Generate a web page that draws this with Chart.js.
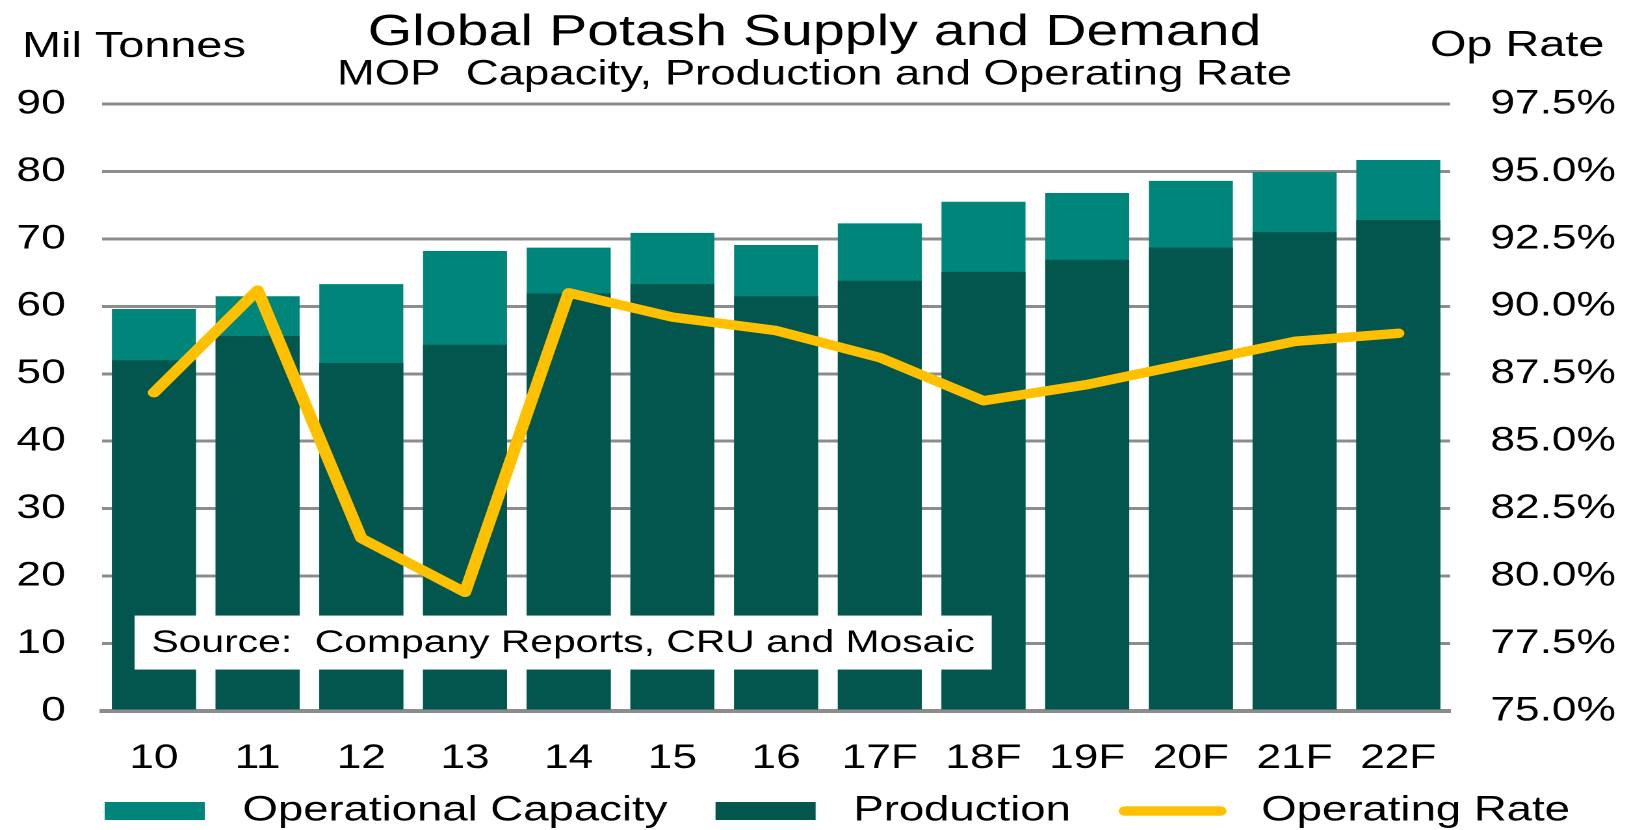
<!DOCTYPE html>
<html>
<head>
<meta charset="utf-8">
<title>Global Potash Supply and Demand</title>
<script src="https://cdn.jsdelivr.net/npm/chart.js@4/dist/chart.umd.min.js"></script>
<style>
  html, body { margin: 0; padding: 0; background: #fff; overflow: hidden; }
  /* the source picture is stretched sideways, so the chart is drawn narrow and widened */
  #wrap { width: 1253px; height: 830px; transform: scaleX(1.3001); transform-origin: 0 0; }
</style>
</head>
<body>
<div id="wrap"><canvas id="chartPotash" width="1253" height="830"></canvas></div>
<script>
// Data (Mil Tonnes, Op Rate %)
const years = ["10", "11", "12", "13", "14", "15", "16", "17F", "18F", "19F", "20F", "21F", "22F"];
const capacity = [59.6, 61.5, 63.3, 68.2, 68.7, 70.9, 69.1, 72.3, 75.5, 76.8, 78.6, 79.9, 81.7];
const production = [52.0, 55.6, 51.6, 54.3, 61.9, 63.3, 61.5, 63.8, 65.1, 66.9, 68.7, 71.0, 72.8];
const opRate = [86.8, 90.6, 81.4, 79.4, 90.5, 89.6, 89.1, 88.1, 86.5, 87.1, 87.9, 88.7, 89.0];

const tonnesTicks = [0, 10, 20, 30, 40, 50, 60, 70, 80, 90];
const rateTicks = [75.0, 77.5, 80.0, 82.5, 85.0, 87.5, 90.0, 92.5, 95.0, 97.5];

const COL_CAPACITY = "#00857A";
const COL_PRODUCTION = "#03564E";
const COL_RATE = "#FFC000";
const COL_GRID = "#8C8C8C";
const FONT = '"Liberation Sans", Arial, sans-serif';

Chart.defaults.font.family = FONT;
Chart.defaults.color = "#000";

// Axis captions, source box and the legend row
const extrasPlugin = {
  id: "extras",
  afterDatasetsDraw(chart) {
    const { ctx, chartArea, scales } = chart;
    const text = "Source:  Company Reports, CRU and Mosaic";
    ctx.save();
    ctx.font = `31.4px ${FONT}`;
    const w = ctx.measureText(text).width + 26;
    const h = 54;
    const cy = scales.y.getPixelForValue(10) - 1;
    const x0 = chartArea.left + 25;
    ctx.fillStyle = "#fff";
    ctx.fillRect(x0, cy - h / 2, w, h);
    ctx.fillStyle = "#000";
    ctx.textBaseline = "middle";
    ctx.textAlign = "left";
    ctx.fillText(text, x0 + 13, cy + 1);
    ctx.restore();
  },
  afterDraw(chart) {
    const { ctx, chartArea, scales } = chart;
    ctx.save();
    ctx.fillStyle = "#000";
    ctx.textBaseline = "middle";
    ctx.font = `36px ${FONT}`;
    ctx.textAlign = "left";
    ctx.fillText("Mil Tonnes", 17, 47);
    ctx.textAlign = "right";
    ctx.fillText("Op Rate", scales.y1.right - 19, 46);

    // legend
    ctx.font = `35px ${FONT}`;
    ctx.textAlign = "left";
    const y = 811;
    let x = chartArea.left + 2;
    chart.data.datasets.forEach((ds) => {
      if (ds.type === "line") {
        ctx.strokeStyle = ds.borderColor;
        ctx.lineWidth = ds.borderWidth;
        ctx.lineCap = "round";
        ctx.beginPath();
        ctx.moveTo(x + 4.5, y);
        ctx.lineTo(x + 78, y);
        ctx.stroke();
        x += 82.5;
        x += 27;
      } else {
        ctx.fillStyle = ds.backgroundColor;
        ctx.fillRect(x, y - 9, 77, 18);
        x += 77;
        x += 29;
      }
      ctx.fillStyle = "#000";
      ctx.fillText(ds.label, x, y);
      x += ctx.measureText(ds.label).width + 37;
    });
    ctx.restore();
  },
};

const ctx = document.getElementById("chartPotash").getContext("2d");

new Chart(ctx, {
  data: {
    labels: years,
    datasets: [
      {
        type: "bar",
        label: "Operational Capacity",
        data: capacity,
        backgroundColor: COL_CAPACITY,
        borderWidth: 0,
        order: 2,
      },
      {
        type: "bar",
        label: "Production",
        data: production,
        backgroundColor: COL_PRODUCTION,
        borderWidth: 0,
        order: 1,
      },
      {
        type: "line",
        label: "Operating Rate",
        data: opRate,
        yAxisID: "y1",
        borderColor: COL_RATE,
        backgroundColor: COL_RATE,
        borderWidth: 9.5,
        borderJoinStyle: "round",
        borderCapStyle: "round",
        pointRadius: 0,
        pointHoverRadius: 0,
        tension: 0,
        order: 0,
      },
    ],
  },
  options: {
    responsive: false,
    animation: false,
    devicePixelRatio: 2,
    layout: { padding: { top: 0, left: 0, right: 0, bottom: 57 } },
    datasets: {
      bar: { categoryPercentage: 0.81, barPercentage: 1 },
    },
    scales: {
      x: {
        stacked: true,
        grid: { display: false },
        border: { display: true, color: COL_GRID, width: 4 },
        ticks: {
          font: { size: 34 },
          padding: 19,
          autoSkip: false,
          maxRotation: 0,
        },
        afterFit: (s) => { s.height = 62; },
      },
      y: {
        position: "left",
        min: 0,
        max: 90,
        stacked: false,
        grid: { color: COL_GRID, lineWidth: 3, drawTicks: false },
        border: { display: false },
        ticks: { font: { size: 34 }, padding: 28 },
        afterBuildTicks: (s) => { s.ticks = tonnesTicks.map((v) => ({ value: v })); },
        afterFit: (s) => { s.width = 78.5; },
      },
      y1: {
        position: "right",
        min: 75,
        max: 97.5,
        grid: { display: false, drawTicks: false },
        border: { display: false },
        ticks: {
          font: { size: 34 },
          padding: 31,
          callback: (v) => Number(v).toFixed(1) + "%",
        },
        afterBuildTicks: (s) => { s.ticks = rateTicks.map((v) => ({ value: v })); },
        afterFit: (s) => { s.width = 137.6; },
      },
    },
    plugins: {
      title: {
        display: true,
        text: "Global Potash Supply and Demand",
        font: { size: 44, weight: "normal", lineHeight: 1 },
        color: "#000",
        padding: { top: 11, bottom: 0 },
      },
      subtitle: {
        display: true,
        text: "MOP  Capacity, Production and Operating Rate",
        font: { size: 35, weight: "normal", lineHeight: 1 },
        color: "#000",
        padding: { top: 2.5, bottom: 11.5 },
      },
      legend: { display: false },
      tooltip: { enabled: false },
    },
  },
  plugins: [extrasPlugin],
});
</script>
</body>
</html>
